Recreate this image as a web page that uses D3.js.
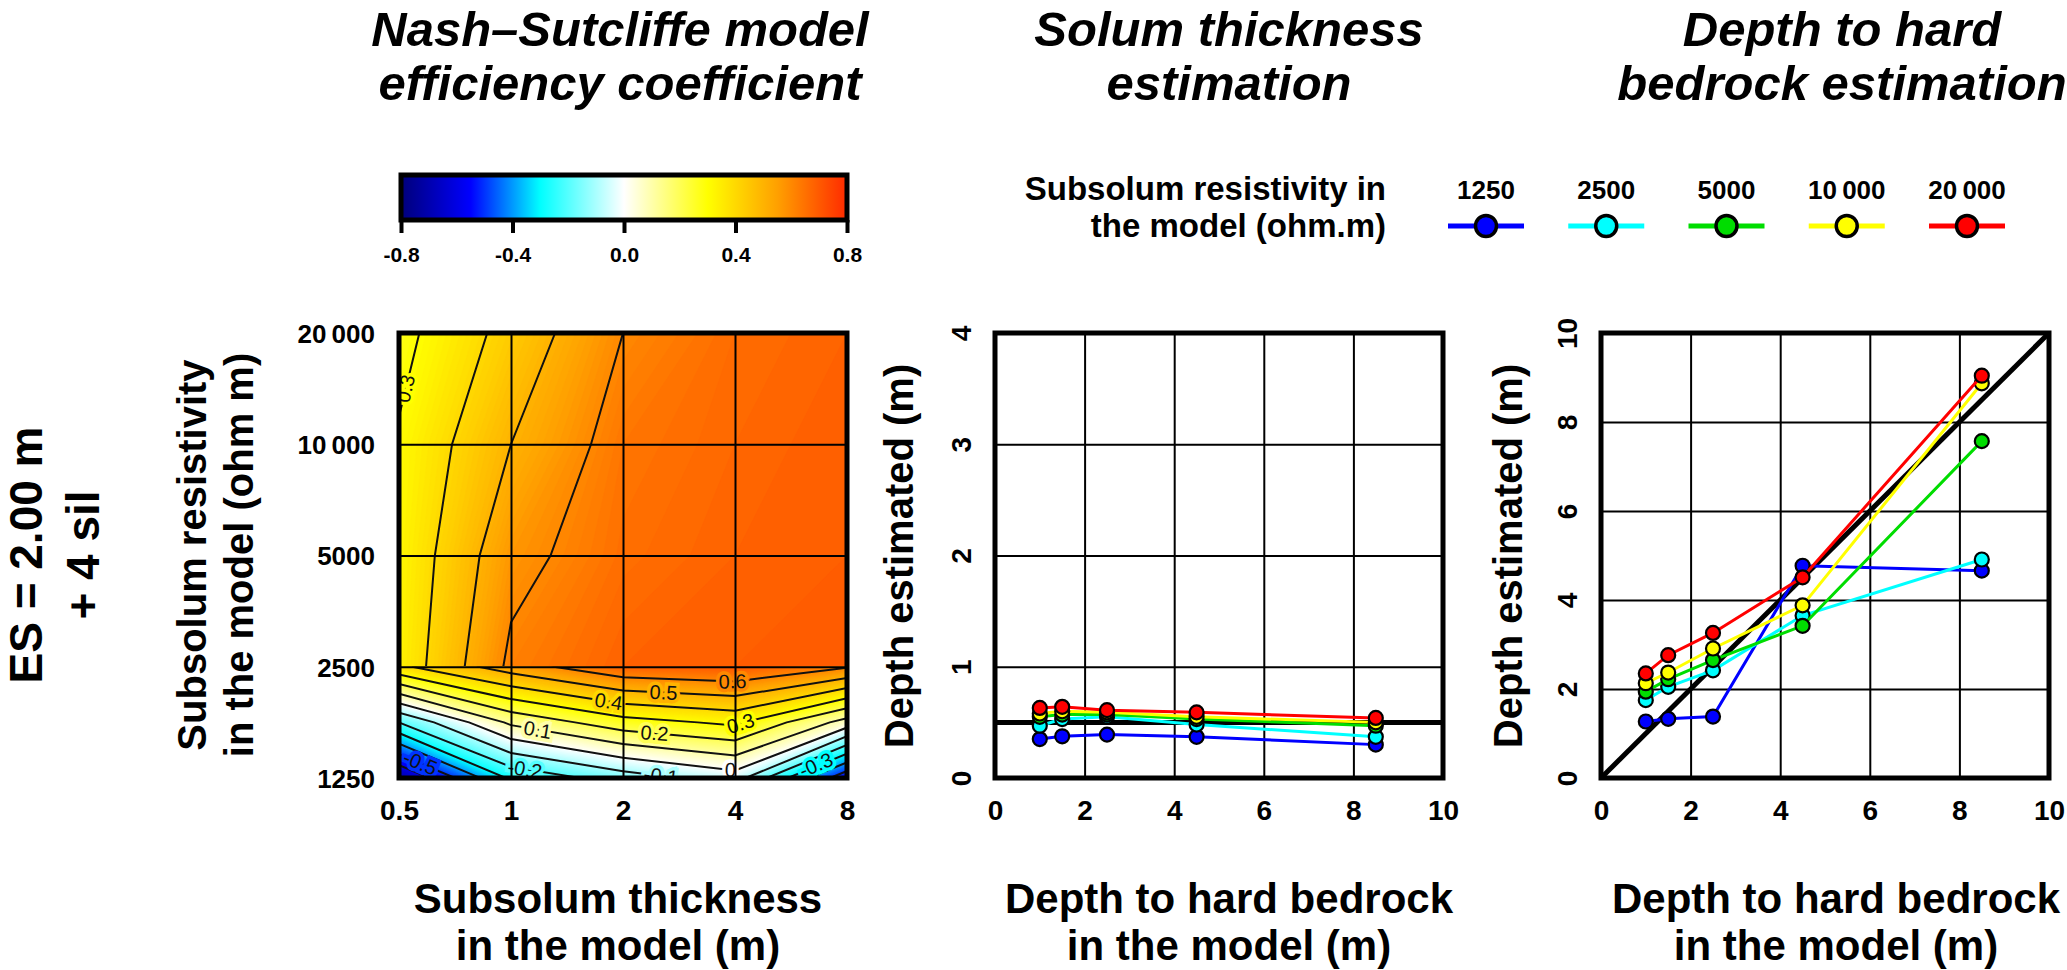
<!DOCTYPE html>
<html>
<head>
<meta charset="utf-8">
<script src="https://cdn.jsdelivr.net/npm/d3@7"></script>
<style>
  body { margin: 0; background: #fff; }
  text { font-family: "Liberation Sans", Arial, sans-serif; }
</style>
</head>
<body>
<svg id="chart" width="2067" height="970"></svg>
<script>
// ---- data ----
var thickness = [0.5, 1, 2, 4, 8];                 // subsolum thickness in the model (m)
var resistivity = [1250, 2500, 5000, 10000, 20000]; // subsolum resistivity (ohm m)
var resLabels = ['1250', '2500', '5000', '10\u2009000', '20\u2009000'];

// Nash-Sutcliffe coefficient, upper block (rows 20000 -> 2500 ohm m)
var nseUpperRows = [20000, 10000, 5000, 2500];
var nseUpper = [
  [0.27, 0.435, 0.60, 0.66, 0.68],
  [0.31, 0.50, 0.64, 0.67, 0.69],
  [0.32, 0.57, 0.655, 0.68, 0.69],
  [0.33, 0.62, 0.68, 0.69, 0.69]
];
// lower block (rows 2500 -> 1250 ohm m)
var nseLowerRows = [2500, 1768, 1250];
var nseLower = [
  [0.38, 0.55, 0.68, 0.70, 0.61],
  [-0.20, 0.12, 0.26, 0.32, 0.06],
  [-0.72, -0.28, -0.15, -0.05, -0.58]
];
// contour labels: [level, thickness where the label sits]
var upperLabels = [[0.3, 0.52]];
var lowerLabels = [[0.6, 3.94], [0.5, 2.57], [0.4, 1.83], [0.3, 4.14], [0.2, 2.43], [0.1, 1.18],
                   [0, 3.89], [-0.1, 2.53], [-0.2, 1.72], [-0.2, 1.09], [-0.5, 0.57], [-0.3, 6.6]];
var colorbarTicks = [-0.8, -0.4, 0, 0.4, 0.8];

var depthModel = [1, 1.5, 2.5, 4.5, 8.5];           // depth to hard bedrock in the model (m)
var solumTrue = 0.5;
var solum1250 = [0.35, 0.375, 0.39, 0.37, 0.30];
var solum2500 = [0.47, 0.53, 0.55, 0.48, 0.37];
var solum5000 = [0.55, 0.57, 0.57, 0.53, 0.47];
var solum10000 = [0.58, 0.60, 0.59, 0.55, 0.50];
var solum20000 = [0.63, 0.64, 0.61, 0.59, 0.54];

var bedrock1250 = [1.27, 1.33, 1.38, 4.77, 4.66];
var bedrock2500 = [1.75, 2.05, 2.42, 3.65, 4.91];
var bedrock5000 = [1.94, 2.22, 2.65, 3.42, 7.57];
var bedrock10000 = [2.13, 2.37, 2.91, 3.88, 8.87];
var bedrock20000 = [2.35, 2.76, 3.26, 4.51, 9.04];

var seriesColors = ['#0000ff', '#00ffff', '#00dd00', '#ffff00', '#ff0000'];
var solumSeries = [solum1250, solum2500, solum5000, solum10000, solum20000];
var bedrockSeries = [bedrock1250, bedrock2500, bedrock5000, bedrock10000, bedrock20000];

// ---- layout ----
var svg = d3.select('#chart');
var plotTop = 333, plotBottom = 778;
var p1 = [399, 847], p2 = [995, 1443], p3 = [1601, 2049];
var FONT = '"Liberation Sans", Arial, sans-serif';

var color = d3.scaleLinear()
  .domain([-0.8, -0.55, -0.3, 0, 0.3, 0.55, 0.8])
  .range(['#00007a', '#0000ff', '#00ffff', '#ffffff', '#ffff00', '#ffa000', '#ff2a00'])
  .clamp(true);

function txt(g, x, y, s, size, opts) {
  opts = opts || {};
  var t = g.append('text').attr('x', x).attr('y', y).text(s)
    .attr('font-size', size)
    .attr('font-weight', opts.weight || 'bold')
    .attr('text-anchor', opts.anchor || 'middle');
  if (opts.italic) t.attr('font-style', 'italic');
  if (opts.rotate) t.attr('transform', 'rotate(' + opts.rotate + ',' + x + ',' + y + ')');
  return t;
}

// titles
txt(svg, 620, 46, 'Nash\u2013Sutcliffe model', 49, {italic: true});
txt(svg, 620, 100, 'efficiency coefficient', 49, {italic: true});
txt(svg, 1229, 46, 'Solum thickness', 49, {italic: true});
txt(svg, 1229, 100, 'estimation', 49, {italic: true});
txt(svg, 1842, 46, 'Depth to hard', 49, {italic: true});
txt(svg, 1842, 100, 'bedrock estimation', 49, {italic: true});

// left side label
txt(svg, 42, 555, 'ES = 2.00 m', 46, {rotate: -90});
txt(svg, 99, 555, '+ 4 sil', 46, {rotate: -90});

// ---- panel 1: contour map ----
var x1 = d3.scaleLog().base(2).domain([0.5, 8]).range(p1);
var y1 = d3.scaleLog().base(2).domain([1250, 20000]).range([plotBottom, plotTop]);
var defs = svg.append('defs');
var g1 = svg.append('g');

var fillLevels = d3.range(-100, 81, 1).map(function(d) { return d / 100; });
var lineLevels = d3.range(-9, 8, 1).map(function(d) { return d / 10; });

function colPos(t) { return Math.log2(t / thickness[0]); }

function levelY(grid, ry, level, t) {
  var c = Math.max(0, Math.min(thickness.length - 1.0001, colPos(t)));
  var i = Math.floor(c), f = c - i;
  var col = grid.map(function(r) { return r[i] * (1 - f) + r[i + 1] * f; });
  for (var r = 0; r < col.length - 1; r++) {
    var a = col[r] - level, b = col[r + 1] - level;
    if (a * b <= 0 && col[r] !== col[r + 1]) {
      return ry(r + (level - col[r]) / (col[r + 1] - col[r]));
    }
  }
  return null;
}

function drawBand(grid, rows, labels, id) {
  var n = grid[0].length, m = grid.length;
  var values = [].concat.apply([], grid);
  var gx = d3.scaleLinear().domain([0.5, n - 0.5]).range([x1(thickness[0]), x1(thickness[n - 1])]);
  var gy = d3.scaleLinear().domain([0.5, m - 0.5]).range([y1(rows[0]), y1(rows[m - 1])]);
  var ry = d3.scaleLinear().domain([0, m - 1]).range([y1(rows[0]), y1(rows[m - 1])]);
  var proj = d3.geoTransform({point: function(px, py) { this.stream.point(gx(px), gy(py)); }});
  var path = d3.geoPath(proj);
  var bx = p1[0], by = y1(rows[0]), bw = p1[1] - p1[0], bh = y1(rows[m - 1]) - y1(rows[0]);

  defs.append('clipPath').attr('id', id).append('rect')
    .attr('x', bx).attr('y', by).attr('width', bw).attr('height', bh);

  var g = g1.append('g').attr('clip-path', 'url(#' + id + ')');
  g.append('rect').attr('x', bx).attr('y', by).attr('width', bw).attr('height', bh)
    .attr('fill', color(-1));

  var fills = d3.contours().size([n, m]).thresholds(fillLevels)(values);
  g.selectAll('path.fill').data(fills).enter().append('path')
    .attr('class', 'fill')
    .attr('d', path)
    .attr('fill', function(d) { return color(d.value + 0.005); })
    .attr('stroke', function(d) { return color(d.value + 0.005); })
    .attr('stroke-width', 0.6);

  var lines = d3.contours().size([n, m]).thresholds(lineLevels)(values);
  g.selectAll('path.iso').data(lines).enter().append('path')
    .attr('class', 'iso')
    .attr('d', path)
    .attr('fill', 'none')
    .attr('stroke', '#111')
    .attr('stroke-width', 2);

  labels.forEach(function(l) {
    var xp = x1(l[1]);
    var yp = levelY(grid, ry, l[0], l[1]);
    if (yp === null) return;
    var ya = levelY(grid, ry, l[0], l[1] / 1.04), yb = levelY(grid, ry, l[0], l[1] * 1.04);
    var ang = 0;
    if (ya !== null && yb !== null) {
      ang = Math.atan2(yb - ya, x1(l[1] * 1.04) - x1(l[1] / 1.04)) * 180 / Math.PI;
    }
    g.append('text')
      .attr('transform', 'translate(' + xp + ',' + yp + ') rotate(' + ang + ')')
      .attr('dy', '0.35em')
      .attr('text-anchor', 'middle')
      .attr('font-size', 20)
      .attr('fill', '#111')
      .attr('stroke', color(l[0]))
      .attr('stroke-width', 7)
      .attr('paint-order', 'stroke')
      .text(String(+l[0].toFixed(1)));
  });
}

drawBand(nseUpper, nseUpperRows, upperLabels, 'clipUpper');
drawBand(nseLower, nseLowerRows, lowerLabels, 'clipLower');

function grid(g, xs, ys, xt, yt) {
  g.append('g').attr('transform', 'translate(0,' + plotBottom + ')')
    .call(d3.axisBottom(xs).tickValues(xt).tickSize(-(plotBottom - plotTop)).tickFormat(''))
    .call(function(a) {
      a.select('.domain').remove();
      a.selectAll('line').attr('stroke', '#000').attr('stroke-width', 2);
    });
  g.append('g').attr('transform', 'translate(' + xs.range()[0] + ',0)')
    .call(d3.axisLeft(ys).tickValues(yt).tickSize(-(xs.range()[1] - xs.range()[0])).tickFormat(''))
    .call(function(a) {
      a.select('.domain').remove();
      a.selectAll('line').attr('stroke', '#000').attr('stroke-width', 2);
    });
}

function frame(g, xs) {
  g.append('rect').attr('x', xs.range()[0]).attr('y', plotTop)
    .attr('width', xs.range()[1] - xs.range()[0]).attr('height', plotBottom - plotTop)
    .attr('fill', 'none').attr('stroke', '#000').attr('stroke-width', 5);
}

function xLabels(g, xs, ticks, fmt) {
  g.append('g').attr('transform', 'translate(0,' + plotBottom + ')')
    .call(d3.axisBottom(xs).tickValues(ticks).tickSize(0).tickFormat(fmt))
    .call(function(a) {
      a.select('.domain').remove();
      a.selectAll('text').attr('y', 42).attr('dy', 0)
        .attr('font-size', 28).attr('font-weight', 'bold').attr('fill', '#000')
        .attr('font-family', FONT);
    });
}

function yLabelsRot(g, xs, ys, ticks) {
  g.append('g').attr('transform', 'translate(' + xs.range()[0] + ',0)')
    .call(d3.axisLeft(ys).tickValues(ticks).tickSize(0).tickFormat(d3.format('d')))
    .call(function(a) {
      a.select('.domain').remove();
      a.selectAll('text').attr('x', 0).attr('dy', 0)
        .attr('transform', 'translate(-24,0) rotate(-90)')
        .attr('text-anchor', 'middle')
        .attr('font-size', 28).attr('font-weight', 'bold').attr('fill', '#000')
        .attr('font-family', FONT);
    });
}

grid(g1, x1, y1, [1, 2, 4], [2500, 5000, 10000]);
frame(g1, x1);
xLabels(g1, x1, thickness, function(d) { return String(d); });
g1.append('g').attr('transform', 'translate(' + p1[0] + ',0)')
  .call(d3.axisLeft(y1).tickValues(resistivity).tickSize(0)
    .tickFormat(function(d, i) { return resLabels[i]; }))
  .call(function(a) {
    a.select('.domain').remove();
    a.selectAll('text').attr('x', -24).attr('dy', '0.36em')
      .attr('font-size', 26).attr('font-weight', 'bold').attr('fill', '#000')
      .attr('font-family', FONT);
  });
txt(g1, 206, 555, 'Subsolum resistivity', 40, {rotate: -90});
txt(g1, 253, 555, 'in the model (ohm m)', 40, {rotate: -90});
txt(g1, 618, 913, 'Subsolum thickness', 42);
txt(g1, 618, 960, 'in the model (m)', 42);

// colour bar
var cbx = d3.scaleLinear().domain([-0.8, 0.8]).range([401, 847]);
var grad = defs.append('linearGradient').attr('id', 'nseGrad')
  .attr('x1', '0%').attr('x2', '100%').attr('y1', '0%').attr('y2', '0%');
grad.selectAll('stop').data(color.domain()).enter().append('stop')
  .attr('offset', function(d) { return ((d + 0.8) / 1.6 * 100) + '%'; })
  .attr('stop-color', function(d) { return color(d); });
var cb = svg.append('g');
cb.append('g').attr('transform', 'translate(0,220)')
  .call(d3.axisBottom(cbx).tickValues(colorbarTicks).tickSize(13).tickPadding(10)
    .tickFormat(function(d) { return d.toFixed(1); }))
  .call(function(a) {
    a.select('.domain').remove();
    a.selectAll('line').attr('stroke', '#000').attr('stroke-width', 4);
    a.selectAll('text').attr('y', 42).attr('dy', 0)
      .attr('font-size', 21).attr('font-weight', 'bold').attr('fill', '#000')
      .attr('font-family', FONT);
  });
cb.append('rect').attr('x', cbx(-0.8)).attr('y', 175)
  .attr('width', cbx(0.8) - cbx(-0.8)).attr('height', 45)
  .attr('fill', 'url(#nseGrad)').attr('stroke', '#000').attr('stroke-width', 5);

// ---- panel 2: solum thickness ----
var x2 = d3.scaleLinear().domain([0, 10]).range(p2);
var y2 = d3.scaleLinear().domain([0, 4]).range([plotBottom, plotTop]);
var g2 = svg.append('g');
grid(g2, x2, y2, [2, 4, 6, 8], [1, 2, 3]);
g2.append('line').attr('x1', x2(0)).attr('x2', x2(10))
  .attr('y1', y2(solumTrue)).attr('y2', y2(solumTrue))
  .attr('stroke', '#000').attr('stroke-width', 5);

function drawSeries(g, xs, ys, series) {
  var line = d3.line().x(function(d) { return xs(d[0]); }).y(function(d) { return ys(d[1]); });
  series.forEach(function(vals, i) {
    var pts = depthModel.map(function(d, j) { return [d, vals[j]]; });
    g.append('path').datum(pts).attr('d', line)
      .attr('fill', 'none').attr('stroke', seriesColors[i]).attr('stroke-width', 3);
    g.selectAll(null).data(pts).enter().append('circle')
      .attr('cx', function(d) { return xs(d[0]); })
      .attr('cy', function(d) { return ys(d[1]); })
      .attr('r', 7)
      .attr('fill', seriesColors[i]).attr('stroke', '#000').attr('stroke-width', 2.2);
  });
}
drawSeries(g2, x2, y2, solumSeries);
frame(g2, x2);
xLabels(g2, x2, [0, 2, 4, 6, 8, 10], d3.format('d'));
yLabelsRot(g2, x2, y2, [0, 1, 2, 3, 4]);
txt(g2, 913, 556, 'Depth estimated (m)', 40, {rotate: -90});
txt(g2, 1229, 913, 'Depth to hard bedrock', 42);
txt(g2, 1229, 960, 'in the model (m)', 42);

// ---- panel 3: depth to hard bedrock ----
var x3 = d3.scaleLinear().domain([0, 10]).range(p3);
var y3 = d3.scaleLinear().domain([0, 10]).range([plotBottom, plotTop]);
var g3 = svg.append('g');
grid(g3, x3, y3, [2, 4, 6, 8], [2, 4, 6, 8]);
g3.append('line').attr('x1', x3(0)).attr('x2', x3(10))
  .attr('y1', y3(0)).attr('y2', y3(10))
  .attr('stroke', '#000').attr('stroke-width', 5);
drawSeries(g3, x3, y3, bedrockSeries);
frame(g3, x3);
xLabels(g3, x3, [0, 2, 4, 6, 8, 10], d3.format('d'));
yLabelsRot(g3, x3, y3, [0, 2, 4, 6, 8, 10]);
txt(g3, 1522, 556, 'Depth estimated (m)', 40, {rotate: -90});
txt(g3, 1836, 913, 'Depth to hard bedrock', 42);
txt(g3, 1836, 960, 'in the model (m)', 42);

// ---- legend ----
var lg = svg.append('g');
txt(lg, 1386, 200, 'Subsolum resistivity in', 33, {anchor: 'end'});
txt(lg, 1386, 237, 'the model (ohm.m)', 33, {anchor: 'end'});
var lx = d3.scalePoint().domain(resLabels).range([1486, 1967]);
var item = lg.selectAll('g.item').data(resLabels).enter().append('g')
  .attr('class', 'item')
  .attr('transform', function(d) { return 'translate(' + lx(d) + ',0)'; });
item.append('text').attr('y', 199).attr('text-anchor', 'middle')
  .attr('font-size', 26).attr('font-weight', 'bold').text(function(d) { return d; });
item.append('line').attr('x1', -38).attr('x2', 38).attr('y1', 226).attr('y2', 226)
  .attr('stroke', function(d, i) { return seriesColors[i]; }).attr('stroke-width', 5);
item.append('circle').attr('cy', 226).attr('r', 10.5)
  .attr('fill', function(d, i) { return seriesColors[i]; })
  .attr('stroke', '#000').attr('stroke-width', 3.5);
</script>
</body>
</html>
